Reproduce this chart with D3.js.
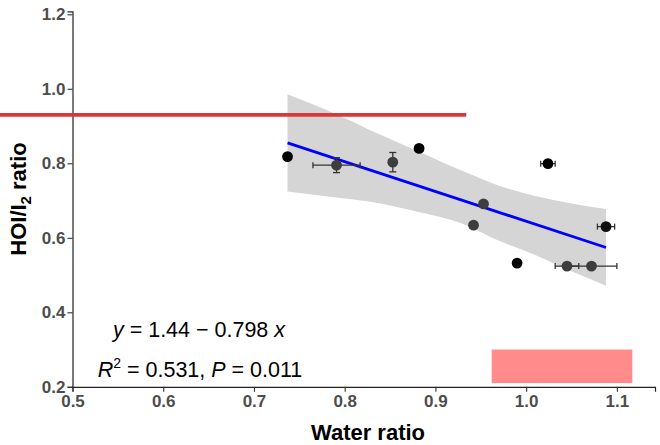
<!DOCTYPE html>
<html>
<head>
<meta charset="utf-8">
<script src="https://cdn.jsdelivr.net/npm/d3@7"></script>
<style>
  body { margin: 0; background: #fff; }
  svg text { font-family: "Liberation Sans", Arial, sans-serif; }
</style>
</head>
<body>
<div id="chart"></div>
<script>
// points
var waterRatio = [0.737, 0.791, 0.853, 0.882, 0.953, 0.942, 0.990, 1.024, 1.088, 1.045, 1.072];
var hoiRatio   = [0.818, 0.795, 0.803, 0.840, 0.691, 0.634, 0.532, 0.799, 0.630, 0.524, 0.524];
var xErr       = [0, 0.026, 0, 0.004, 0, 0.004, 0, 0.008, 0.0095, 0.013, 0.028];
var yErr       = [0, 0.020, 0.026, 0, 0, 0, 0, 0, 0, 0, 0];
var pointShade = ["#000", "#3d3d3d", "#3d3d3d", "#000", "#3d3d3d", "#3d3d3d", "#000", "#000", "#111", "#3d3d3d", "#3d3d3d"];

// fitted line ends and confidence band
var fitX = [0.737, 1.088];
var fitY = [0.855, 0.574];
var bandX     = [0.737, 0.79, 0.83, 0.88, 0.93, 0.97, 1.01, 1.05, 1.088];
var bandUpper = [0.985, 0.932, 0.887, 0.833, 0.779, 0.740, 0.712, 0.692, 0.677];
var bandLower = [0.724, 0.708, 0.696, 0.670, 0.638, 0.592, 0.554, 0.510, 0.471];

// annotations
var redLineX = [0.42, 0.934];
var redLineY = 0.93;
var pinkBoxX = [0.962, 1.117];
var pinkBoxY = [0.21, 0.30];

var xTicks = [0.5, 0.6, 0.7, 0.8, 0.9, 1.0, 1.1];
var yTicks = [0.2, 0.4, 0.6, 0.8, 1.0, 1.2];

var width = 660, height = 445;
var svg = d3.select("#chart").append("svg").attr("width", width).attr("height", height);

var xScale = d3.scaleLinear().domain([0.5, 1.142]).range([72.5, 655]);
var yScale = d3.scaleLinear().domain([0.2, 1.208]).range([386.8, 11.3]);

// confidence band
var band = d3.area()
  .x(function(d, i){ return xScale(bandX[i]); })
  .y0(function(d, i){ return yScale(bandLower[i]); })
  .y1(function(d, i){ return yScale(bandUpper[i]); })
  .curve(d3.curveMonotoneX);
svg.append("path").datum(bandX).attr("d", band).attr("fill", "#d5d5d5");

// fitted line
svg.append("line")
  .attr("x1", xScale(fitX[0])).attr("y1", yScale(fitY[0]))
  .attr("x2", xScale(fitX[1])).attr("y2", yScale(fitY[1]))
  .attr("stroke", "#0000ff").attr("stroke-width", 2.8);

// error bars
var pts = waterRatio.map(function(d, i){ return i; });
var eb = svg.append("g").attr("stroke", "#333").attr("stroke-width", 1.3);
pts.forEach(function(i){
  var cx = xScale(waterRatio[i]), cy = yScale(hoiRatio[i]);
  if (xErr[i] > 0) {
    var xa = xScale(waterRatio[i] - xErr[i]), xb = xScale(waterRatio[i] + xErr[i]);
    eb.append("line").attr("x1", xa).attr("x2", xb).attr("y1", cy).attr("y2", cy);
    eb.append("line").attr("x1", xa).attr("x2", xa).attr("y1", cy - 3).attr("y2", cy + 3);
    eb.append("line").attr("x1", xb).attr("x2", xb).attr("y1", cy - 3).attr("y2", cy + 3);
  }
  if (yErr[i] > 0) {
    var ya = yScale(hoiRatio[i] - yErr[i]), yb = yScale(hoiRatio[i] + yErr[i]);
    eb.append("line").attr("x1", cx).attr("x2", cx).attr("y1", ya).attr("y2", yb);
    eb.append("line").attr("x1", cx - 3.5).attr("x2", cx + 3.5).attr("y1", ya).attr("y2", ya);
    eb.append("line").attr("x1", cx - 3.5).attr("x2", cx + 3.5).attr("y1", yb).attr("y2", yb);
  }
});

// points
svg.selectAll("circle.pt").data(pts).enter().append("circle")
  .attr("class", "pt")
  .attr("cx", function(i){ return xScale(waterRatio[i]); })
  .attr("cy", function(i){ return yScale(hoiRatio[i]); })
  .attr("r", 5.4)
  .attr("fill", function(i){ return pointShade[i]; });

// axes
var xAxis = d3.axisBottom(xScale).tickValues(xTicks).tickFormat(d3.format(".1f")).tickSizeOuter(0).tickSize(5).tickPadding(3);
var yAxis = d3.axisLeft(yScale).tickValues(yTicks).tickFormat(d3.format(".1f")).tickSizeOuter(0).tickSize(5).tickPadding(2);
var gx = svg.append("g").attr("transform", "translate(0," + yScale(0.2) + ")").call(xAxis);
var gy = svg.append("g").attr("transform", "translate(" + xScale(0.5) + ",0)").call(yAxis);
[gx, gy].forEach(function(g){
  g.select(".domain").attr("stroke", "#222").attr("stroke-width", 1.2);
  g.selectAll(".tick line").attr("stroke", "#333").attr("stroke-width", 1.1);
  g.selectAll(".tick text").attr("fill", "#4d4d4d").style("font-size", "17px").style("font-weight", "bold");
});

// red line annotation
svg.append("line")
  .attr("x1", xScale(redLineX[0])).attr("x2", xScale(redLineX[1]))
  .attr("y1", yScale(redLineY)).attr("y2", yScale(redLineY))
  .attr("stroke", "#d7373d").attr("stroke-width", 3.6);

// pink box
svg.append("rect")
  .attr("x", xScale(pinkBoxX[0])).attr("y", yScale(pinkBoxY[1]))
  .attr("width", xScale(pinkBoxX[1]) - xScale(pinkBoxX[0]))
  .attr("height", yScale(pinkBoxY[0]) - yScale(pinkBoxY[1]))
  .attr("fill", "#ff8b8b");

// equation text
var eq = svg.append("text").attr("x", 199).attr("y", 337).attr("text-anchor", "middle")
  .style("font-size", "21.5px").attr("fill", "#000");
eq.append("tspan").style("font-style", "italic").text("y");
eq.append("tspan").text(" = 1.44 \u2212 0.798 ");
eq.append("tspan").style("font-style", "italic").text("x");

var r2 = svg.append("text").attr("x", 200).attr("y", 377).attr("text-anchor", "middle")
  .style("font-size", "21.5px").attr("fill", "#000");
r2.append("tspan").style("font-style", "italic").text("R");
r2.append("tspan").attr("dy", -9).style("font-size", "14px").text("2");
r2.append("tspan").attr("dy", 9).text(" = 0.531, ");
r2.append("tspan").style("font-style", "italic").text("P");
r2.append("tspan").text(" = 0.011");

// axis titles
svg.append("text").attr("x", 368).attr("y", 440).attr("text-anchor", "middle")
  .style("font-size", "22px").style("font-weight", "bold").text("Water ratio");

var yt = svg.append("text").attr("transform", "translate(26,199) rotate(-90)").attr("text-anchor", "middle")
  .style("font-size", "22px").style("font-weight", "bold");
yt.append("tspan").text("HOI/I");
yt.append("tspan").attr("dy", 5).style("font-size", "15px").text("2");
yt.append("tspan").attr("dy", -5).text(" ratio");
</script>
</body>
</html>
